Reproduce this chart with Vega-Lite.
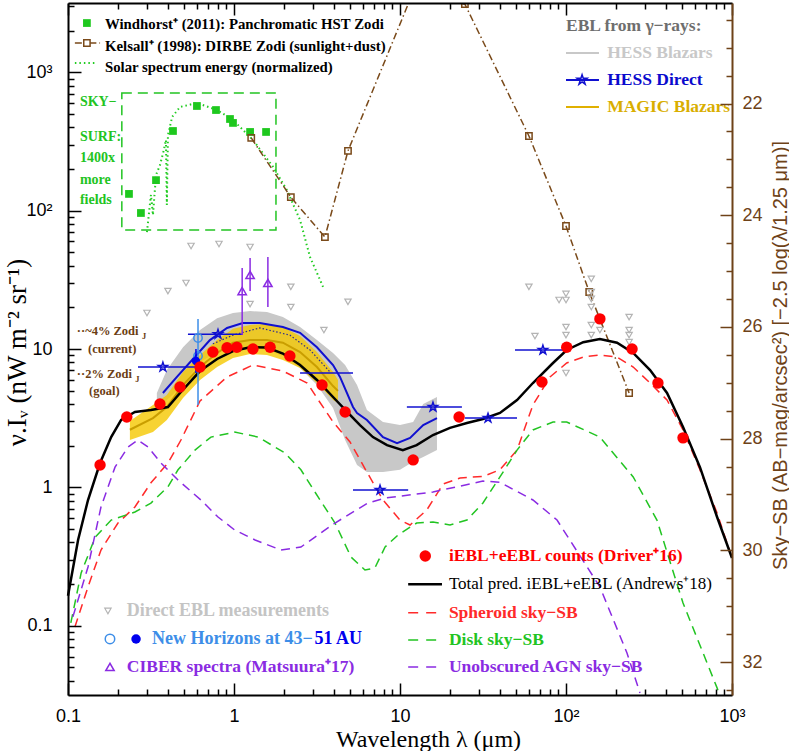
{
  "$schema": "https://vega.github.io/schema/vega-lite/v6.json",
  "width": 664,
  "height": 692,
  "autosize": {"type": "none"},
  "padding": {"left": 68, "top": 3, "right": 57, "bottom": 56},
  "background": "white",
  "config": {"view": {"stroke": null}, "axis": {"grid": false}},
  "datasets": {
    "total": [
      {"wl": 0.1, "v": 0.165}, {"wl": 0.115, "v": 0.417}, {"wl": 0.132, "v": 0.811}, {"wl": 0.156, "v": 1.5},
      {"wl": 0.182, "v": 2.31}, {"wl": 0.209, "v": 3.07}, {"wl": 0.253, "v": 3.51}, {"wl": 0.316, "v": 3.63},
      {"wl": 0.4, "v": 3.81}, {"wl": 0.473, "v": 4.81}, {"wl": 0.624, "v": 6.93}, {"wl": 0.791, "v": 8.47},
      {"wl": 0.986, "v": 9.67}, {"wl": 1.25, "v": 10.3}, {"wl": 1.58, "v": 10.25}, {"wl": 1.97, "v": 9.27},
      {"wl": 2.5, "v": 7.66}, {"wl": 3.16, "v": 5.97}, {"wl": 3.95, "v": 4.5}, {"wl": 5.0, "v": 3.34},
      {"wl": 5.74, "v": 2.82}, {"wl": 6.87, "v": 2.31}, {"wl": 8.35, "v": 2.02}, {"wl": 10.4, "v": 1.86},
      {"wl": 12.6, "v": 2.02}, {"wl": 15.8, "v": 2.39}, {"wl": 20, "v": 2.69}, {"wl": 25.3, "v": 2.92},
      {"wl": 31.6, "v": 3.12}, {"wl": 40, "v": 3.45}, {"wl": 50.7, "v": 4.28}, {"wl": 63.2, "v": 5.68},
      {"wl": 83.5, "v": 7.92}, {"wl": 101, "v": 9.84}, {"wl": 127, "v": 11.2}, {"wl": 160, "v": 11.8},
      {"wl": 203, "v": 11.1}, {"wl": 254, "v": 9.36}, {"wl": 321, "v": 7.05}, {"wl": 406, "v": 4.81},
      {"wl": 507, "v": 2.73}, {"wl": 641, "v": 1.4}, {"wl": 813, "v": 0.611}, {"wl": 1000, "v": 0.309}
    ],
    "sph": [
      {"wl": 0.11, "v": 0.098}, {"wl": 0.132, "v": 0.191}, {"wl": 0.158, "v": 0.353}, {"wl": 0.2, "v": 0.553},
      {"wl": 0.253, "v": 0.722}, {"wl": 0.316, "v": 1.08}, {"wl": 0.4, "v": 1.5}, {"wl": 0.479, "v": 2.2},
      {"wl": 0.624, "v": 4.21}, {"wl": 0.908, "v": 6.28}, {"wl": 1.3, "v": 7.66}, {"wl": 1.97, "v": 6.93},
      {"wl": 2.76, "v": 5.68}, {"wl": 3.16, "v": 4.43}, {"wl": 3.95, "v": 2.97}, {"wl": 5.0, "v": 2.13},
      {"wl": 6.32, "v": 1.29}, {"wl": 7.9, "v": 0.811}, {"wl": 10, "v": 0.581}, {"wl": 11.5, "v": 0.535},
      {"wl": 14.5, "v": 0.687}, {"wl": 18.2, "v": 1.06}, {"wl": 23, "v": 1.17}, {"wl": 31.6, "v": 1.2},
      {"wl": 40, "v": 1.34}, {"wl": 50.7, "v": 1.86}, {"wl": 63.2, "v": 3.94}, {"wl": 80.1, "v": 6.28},
      {"wl": 101, "v": 7.92}, {"wl": 127, "v": 8.75}, {"wl": 160, "v": 9.05}, {"wl": 203, "v": 8.75},
      {"wl": 254, "v": 7.41}, {"wl": 321, "v": 5.68}, {"wl": 406, "v": 4.28}, {"wl": 507, "v": 2.6},
      {"wl": 641, "v": 1.34}, {"wl": 813, "v": 0.653}, {"wl": 1000, "v": 0.309}
    ],
    "disk": [
      {"wl": 0.104, "v": 0.105}, {"wl": 0.12, "v": 0.241}, {"wl": 0.146, "v": 0.438}, {"wl": 0.182, "v": 0.581},
      {"wl": 0.253, "v": 0.664}, {"wl": 0.316, "v": 0.771}, {"wl": 0.4, "v": 1.01}, {"wl": 0.46, "v": 1.34},
      {"wl": 0.582, "v": 1.86}, {"wl": 0.726, "v": 2.31}, {"wl": 1.01, "v": 2.51}, {"wl": 1.4, "v": 2.31},
      {"wl": 2.03, "v": 1.77}, {"wl": 2.53, "v": 1.34}, {"wl": 3.21, "v": 0.853}, {"wl": 4.06, "v": 0.553},
      {"wl": 5.07, "v": 0.314}, {"wl": 6.15, "v": 0.253}, {"wl": 7.06, "v": 0.262}, {"wl": 8.13, "v": 0.371},
      {"wl": 9.73, "v": 0.453}, {"wl": 12.6, "v": 0.553}, {"wl": 15.8, "v": 0.562}, {"wl": 20, "v": 0.535},
      {"wl": 25.3, "v": 0.581}, {"wl": 31.6, "v": 0.771}, {"wl": 40, "v": 1.19}, {"wl": 50.7, "v": 1.86},
      {"wl": 63.2, "v": 2.6}, {"wl": 83.5, "v": 2.97}, {"wl": 101, "v": 2.97}, {"wl": 160, "v": 2.31},
      {"wl": 254, "v": 1.19}, {"wl": 353, "v": 0.581}, {"wl": 507, "v": 0.146}, {"wl": 813, "v": 0.0356},
      {"wl": 900, "v": 0.025}
    ],
    "agn": [
      {"wl": 0.107, "v": 0.116}, {"wl": 0.132, "v": 0.266}, {"wl": 0.158, "v": 0.722}, {"wl": 0.192, "v": 1.4},
      {"wl": 0.23, "v": 1.96}, {"wl": 0.264, "v": 2.2}, {"wl": 0.303, "v": 1.96}, {"wl": 0.363, "v": 1.5},
      {"wl": 0.46, "v": 1.13}, {"wl": 0.632, "v": 0.811}, {"wl": 0.801, "v": 0.611}, {"wl": 1.01, "v": 0.492},
      {"wl": 1.34, "v": 0.417}, {"wl": 1.92, "v": 0.353}, {"wl": 2.53, "v": 0.371}, {"wl": 4.06, "v": 0.553},
      {"wl": 6.41, "v": 0.771}, {"wl": 8.13, "v": 0.838}, {"wl": 15.8, "v": 0.927}, {"wl": 31.6, "v": 1.11},
      {"wl": 40, "v": 1.09}, {"wl": 63.2, "v": 0.811}, {"wl": 88.3, "v": 0.581}, {"wl": 160, "v": 0.191},
      {"wl": 233, "v": 0.0636}, {"wl": 279, "v": 0.0327}
    ],
    "grayband": [
      {"wl": 0.343, "v": 3.94, "v2": 4.81}, {"wl": 0.394, "v": 4.28, "v2": 7.05}, {"wl": 0.493, "v": 5.49, "v2": 10.3},
      {"wl": 0.624, "v": 8.06, "v2": 13.7}, {"wl": 0.791, "v": 9.51, "v2": 16.7}, {"wl": 0.986, "v": 10.2, "v2": 18.2},
      {"wl": 1.25, "v": 10.2, "v2": 18.8}, {"wl": 1.58, "v": 9.84, "v2": 18.5}, {"wl": 1.97, "v": 8.9, "v2": 17.0},
      {"wl": 2.5, "v": 7.29, "v2": 14.4}, {"wl": 3.16, "v": 5.49, "v2": 11.6}, {"wl": 3.95, "v": 3.75, "v2": 9.36},
      {"wl": 4.67, "v": 2.2, "v2": 7.66}, {"wl": 5.51, "v": 1.45, "v2": 5.49}, {"wl": 6.32, "v": 1.29, "v2": 3.63},
      {"wl": 7.9, "v": 1.29, "v2": 2.97}, {"wl": 10, "v": 1.34, "v2": 2.82}, {"wl": 12, "v": 1.53, "v2": 2.97},
      {"wl": 13.8, "v": 1.66, "v2": 4.01}, {"wl": 16.7, "v": 1.86, "v2": 4.5}
    ],
    "goldband": [
      {"wl": 0.236, "v": 2.2, "v2": 3.02}, {"wl": 0.325, "v": 2.51, "v2": 3.94}, {"wl": 0.394, "v": 3.07, "v2": 4.65},
      {"wl": 0.493, "v": 4.43, "v2": 6.82}, {"wl": 0.624, "v": 5.97, "v2": 9.05}, {"wl": 0.791, "v": 7.41, "v2": 11.6},
      {"wl": 0.986, "v": 8.61, "v2": 14.0}, {"wl": 1.25, "v": 9.2, "v2": 14.9}, {"wl": 1.58, "v": 9.05, "v2": 15.2},
      {"wl": 1.97, "v": 8.33, "v2": 14.4}, {"wl": 2.5, "v": 7.29, "v2": 12.4}, {"wl": 3.16, "v": 5.68, "v2": 9.51},
      {"wl": 3.95, "v": 4.28, "v2": 6.82}, {"wl": 4.23, "v": 4.07, "v2": 5.97}
    ],
    "goldmid": [
      {"wl": 0.236, "v": 2.61}, {"wl": 0.325, "v": 3.17}, {"wl": 0.394, "v": 3.81}, {"wl": 0.493, "v": 5.49},
      {"wl": 0.624, "v": 7.41}, {"wl": 0.791, "v": 9.36}, {"wl": 0.986, "v": 11.1}, {"wl": 1.25, "v": 11.6},
      {"wl": 1.58, "v": 11.6}, {"wl": 1.97, "v": 11.1}, {"wl": 2.5, "v": 9.51}, {"wl": 3.16, "v": 7.41},
      {"wl": 3.95, "v": 5.4}, {"wl": 4.23, "v": 4.98}
    ],
    "navy": [
      {"wl": 0.746, "v": 10.9}, {"wl": 0.986, "v": 12.6}, {"wl": 1.43, "v": 14.2}, {"wl": 2.17, "v": 12.6},
      {"wl": 2.87, "v": 9.84}, {"wl": 3.79, "v": 6.82}
    ],
    "hess": [
      {"wl": 0.373, "v": 4.81}, {"wl": 0.453, "v": 6.28}, {"wl": 0.566, "v": 8.47}, {"wl": 0.716, "v": 11.6},
      {"wl": 0.908, "v": 14.2}, {"wl": 1.13, "v": 15.4}, {"wl": 1.43, "v": 15.4}, {"wl": 1.97, "v": 14.4},
      {"wl": 2.5, "v": 13.1}, {"wl": 3.16, "v": 10.3}, {"wl": 3.95, "v": 7.66}, {"wl": 4.35, "v": 6.28},
      {"wl": 5.21, "v": 3.81}, {"wl": 5.51, "v": 3.45}, {"wl": 6.32, "v": 3.07}, {"wl": 7.9, "v": 2.31},
      {"wl": 9.6, "v": 2.09}, {"wl": 11.5, "v": 2.28}, {"wl": 13.8, "v": 2.82}, {"wl": 16.7, "v": 3.17}
    ],
    "stars": [
      {"wl": 0.373, "v": 7.41}, {"wl": 0.801, "v": 12.8}, {"wl": 15.8, "v": 3.81}, {"wl": 33.9, "v": 3.17},
      {"wl": 7.58, "v": 0.957}, {"wl": 72.6, "v": 9.84}
    ],
    "starbars": [
      {"wl": 0.264, "wl2": 0.598, "v": 7.41}, {"wl": 0.528, "wl2": 1.13, "v": 12.8}, {"wl": 2.5, "wl2": 5.21, "v": 6.71},
      {"wl": 11, "wl2": 23.6, "v": 3.81}, {"wl": 24.6, "wl2": 50.7, "v": 3.17}, {"wl": 5.21, "wl2": 11.2, "v": 0.957},
      {"wl": 49.3, "wl2": 96, "v": 9.84}
    ],
    "nhopen": [{"wl": 0.607, "v": 12.0}, {"wl": 0.607, "v": 8.9}],
    "nhopenbar": [{"wl": 0.607, "v": 3.94, "v2": 16.5}],
    "nhfill": [{"wl": 0.59, "v": 8.19}],
    "nhfillbar": [{"wl": 0.59, "v": 6.71, "v2": 10.0}],
    "ciber": [{"wl": 1.12, "v": 26.2}, {"wl": 1.25, "v": 34.3}, {"wl": 1.6, "v": 30.0}],
    "ciberbar": [{"wl": 1.12, "v": 12.6, "v2": 38.5}, {"wl": 1.25, "v": 26.2, "v2": 45.5}, {"wl": 1.6, "v": 20.1, "v2": 46.2}],
    "windhorst": [
      {"wl": 0.233, "v": 132}, {"wl": 0.275, "v": 96.1}, {"wl": 0.339, "v": 166}, {"wl": 0.429, "v": 376},
      {"wl": 0.598, "v": 570}, {"wl": 0.779, "v": 533}, {"wl": 0.946, "v": 459}, {"wl": 0.986, "v": 430},
      {"wl": 1.25, "v": 370}, {"wl": 1.56, "v": 370}
    ],
    "solar": [
      {"wl": 0.299, "v": 70}, {"wl": 0.316, "v": 130}, {"wl": 0.325, "v": 92.9}, {"wl": 0.339, "v": 181},
      {"wl": 0.358, "v": 213}, {"wl": 0.378, "v": 274}, {"wl": 0.389, "v": 324}, {"wl": 0.394, "v": 110},
      {"wl": 0.4, "v": 351}, {"wl": 0.424, "v": 475}, {"wl": 0.473, "v": 561}, {"wl": 0.598, "v": 599},
      {"wl": 0.791, "v": 533}, {"wl": 0.986, "v": 452}, {"wl": 1.3, "v": 324}, {"wl": 1.72, "v": 207},
      {"wl": 2.08, "v": 141}, {"wl": 2.5, "v": 85.5}, {"wl": 2.87, "v": 46.2}, {"wl": 3.44, "v": 28.1}
    ],
    "kelsall": [
      {"wl": 1.27, "v": 335}, {"wl": 2.2, "v": 125}, {"wl": 3.53, "v": 64.4}, {"wl": 4.86, "v": 270},
      {"wl": 12, "v": 3800}, {"wl": 24.6, "v": 3100}, {"wl": 59.8, "v": 346}, {"wl": 100, "v": 77.4},
      {"wl": 138, "v": 25.8}, {"wl": 240, "v": 4.81}
    ],
    "kelsallpts": [
      {"wl": 1.27, "v": 335}, {"wl": 2.2, "v": 125}, {"wl": 3.53, "v": 64.4}, {"wl": 4.86, "v": 270},
      {"wl": 24.6, "v": 3100}, {"wl": 59.8, "v": 346}, {"wl": 100, "v": 77.4}, {"wl": 138, "v": 25.8},
      {"wl": 240, "v": 4.81}
    ],
    "box": [{"wl": 0.211, "wl2": 1.79, "v": 72.4, "v2": 708}],
    "direct": [
      {"wl": 0.551, "v": 55.5}, {"wl": 0.812, "v": 57.4}, {"wl": 1.25, "v": 54.6}, {"wl": 0.514, "v": 30.0},
      {"wl": 0.4, "v": 26.2}, {"wl": 0.299, "v": 18.2}, {"wl": 1.25, "v": 21.1}, {"wl": 2.2, "v": 28.1},
      {"wl": 2.2, "v": 20.1}, {"wl": 4.86, "v": 21.9}, {"wl": 3.48, "v": 13.7}, {"wl": 59.8, "v": 28.1},
      {"wl": 65, "v": 12.4}, {"wl": 90.8, "v": 22.6}, {"wl": 100, "v": 25.0}, {"wl": 100, "v": 22.6},
      {"wl": 100, "v": 14.4}, {"wl": 100, "v": 12.6}, {"wl": 100, "v": 6.71}, {"wl": 142, "v": 32.1},
      {"wl": 142, "v": 25.8}, {"wl": 142, "v": 23.0}, {"wl": 142, "v": 20.1}, {"wl": 142, "v": 14.9},
      {"wl": 142, "v": 12.6}, {"wl": 160, "v": 13.7}, {"wl": 240, "v": 17.0}, {"wl": 240, "v": 13.7},
      {"wl": 240, "v": 12.6}, {"wl": 240, "v": 11.2}
    ],
    "driver": [
      {"wl": 0.156, "v": 1.45}, {"wl": 0.226, "v": 3.23}, {"wl": 0.358, "v": 4.01}, {"wl": 0.473, "v": 5.31},
      {"wl": 0.624, "v": 7.41}, {"wl": 0.746, "v": 9.51}, {"wl": 0.908, "v": 10.2}, {"wl": 1.04, "v": 10.3},
      {"wl": 1.3, "v": 10.0}, {"wl": 1.65, "v": 10.3}, {"wl": 2.17, "v": 8.9}, {"wl": 3.39, "v": 5.49},
      {"wl": 4.67, "v": 3.51}, {"wl": 12.0, "v": 1.58}, {"wl": 22.7, "v": 3.23}, {"wl": 71.6, "v": 5.78},
      {"wl": 101, "v": 10.3}, {"wl": 160, "v": 16.5}, {"wl": 250, "v": 10.0}, {"wl": 358, "v": 5.68},
      {"wl": 507, "v": 2.28}
    ]
  },
  "layer": [
    {
      "encoding": {
        "x": {
          "field": "wl", "type": "quantitative",
          "scale": {"type": "log", "domain": [0.1, 1000], "nice": false},
          "axis": {
            "orient": "bottom",
            "values": [0.1, 0.2, 0.3, 0.4, 0.5, 0.6, 0.7, 0.8, 0.9, 1, 2, 3, 4, 5, 6, 7, 8, 9, 10, 20, 30, 40, 50, 60, 70, 80, 90, 100, 200, 300, 400, 500, 600, 700, 800, 900, 1000],
            "labelExpr": "datum.value===0.1?'0.1':datum.value===1?'1':datum.value===10?'10':datum.value===100?'10²':datum.value===1000?'10³':''",
            "labelOverlap": false, "labelFlush": false, "labelBound": false,
            "labelFont": "Liberation Sans", "labelFontSize": 18, "labelColor": "black", "labelPadding": 24,
            "tickSize": {"condition": {"test": "datum.value===0.1||datum.value===1||datum.value===10||datum.value===100||datum.value===1000", "value": -12}, "value": -6},
            "tickColor": "black", "tickWidth": 1.5,
            "domainColor": "black", "domainWidth": 2, "grid": false, "zindex": 1,
            "title": "Wavelength λ (μm)", "titleFont": "Liberation Serif", "titleFontSize": 24, "titleFontWeight": "normal",
            "titleColor": "black", "titleX": 360, "titleY": 51, "titleAlign": "center", "titleBaseline": "alphabetic"
          }
        },
        "y": {
          "field": "v", "type": "quantitative",
          "scale": {"type": "log", "domain": [0.031623, 3162.3], "nice": false},
          "axis": {
            "orient": "left",
            "values": [0.04, 0.05, 0.06, 0.07, 0.08, 0.09, 0.1, 0.2, 0.3, 0.4, 0.5, 0.6, 0.7, 0.8, 0.9, 1, 2, 3, 4, 5, 6, 7, 8, 9, 10, 20, 30, 40, 50, 60, 70, 80, 90, 100, 200, 300, 400, 500, 600, 700, 800, 900, 1000, 2000, 3000],
            "labelExpr": "datum.value===0.1?'0.1':datum.value===1?'1':datum.value===10?'10':datum.value===100?'10²':datum.value===1000?'10³':''",
            "labelOverlap": false, "labelFlush": false, "labelBound": false,
            "labelFont": "Liberation Sans", "labelFontSize": 18, "labelColor": "black", "labelPadding": 29,
            "tickSize": {"condition": {"test": "datum.value===0.1||datum.value===1||datum.value===10||datum.value===100||datum.value===1000", "value": -13}, "value": -6},
            "tickColor": "black", "tickWidth": 1.5,
            "domainColor": "black", "domainWidth": 2, "grid": false, "zindex": 1,
            "title": "ν.Iᵥ (nW m⁻² sr⁻¹)", "titleFont": "Liberation Serif", "titleFontSize": 27, "titleFontWeight": "normal",
            "titleColor": "black", "titleAngle": 270, "titleX": -43, "titleY": 349, "titleAlign": "center", "titleBaseline": "alphabetic"
          }
        }
      },
      "layer": [
        {"data": {"name": "grayband"}, "mark": {"type": "area", "color": "#c8c8c8", "opacity": 1}, "encoding": {"y2": {"field": "v2"}}},
        {"data": {"name": "goldband"}, "mark": {"type": "area", "color": "#f5c800", "opacity": 0.8}, "encoding": {"y2": {"field": "v2"}}},
        {"data": {"name": "goldmid"}, "mark": {"type": "line", "color": "#c99e00", "strokeWidth": 2}, "encoding": {}},
        {"data": {"name": "navy"}, "mark": {"type": "line", "color": "#2b2b90", "strokeWidth": 1.2, "strokeDash": [1.5, 2]}, "encoding": {}},
        {"data": {"name": "sph"}, "mark": {"type": "line", "color": "#ff2a2a", "strokeWidth": 1.5, "strokeDash": [9, 6], "clip": true}, "encoding": {}},
        {"data": {"name": "disk"}, "mark": {"type": "line", "color": "#22c422", "strokeWidth": 1.5, "strokeDash": [9, 6], "clip": true}, "encoding": {}},
        {"data": {"name": "agn"}, "mark": {"type": "line", "color": "#8a2be2", "strokeWidth": 1.5, "strokeDash": [9, 6], "clip": true}, "encoding": {}},
        {"data": {"name": "box"}, "mark": {"type": "rect", "fill": "transparent", "stroke": "#22c422", "strokeWidth": 1.5, "strokeDash": [10, 6]}, "encoding": {"x2": {"field": "wl2"}, "y2": {"field": "v2"}}},
        {"data": {"name": "solar"}, "mark": {"type": "line", "color": "#22cc22", "strokeWidth": 2, "strokeDash": [1.5, 3]}, "encoding": {}},
        {"data": {"name": "windhorst"}, "mark": {"type": "point", "shape": "square", "filled": true, "color": "#1ec81e", "size": 60, "opacity": 1}, "encoding": {}},
        {"data": {"name": "kelsall"}, "mark": {"type": "line", "color": "#7a4a1a", "strokeWidth": 1.5, "strokeDash": [7, 3, 1.5, 3], "clip": true}, "encoding": {}},
        {"data": {"name": "kelsallpts"}, "mark": {"type": "point", "shape": "square", "filled": false, "color": "#7a4a1a", "strokeWidth": 1.5, "size": 40, "opacity": 1, "clip": true}, "encoding": {}},
        {"data": {"name": "direct"}, "mark": {"type": "point", "shape": "triangle-down", "filled": false, "color": "#b4b4b4", "strokeWidth": 1.2, "size": 40, "opacity": 1}, "encoding": {}},
        {"data": {"name": "total"}, "mark": {"type": "line", "color": "black", "strokeWidth": 2.5}, "encoding": {}},
        {"data": {"name": "hess"}, "mark": {"type": "line", "color": "#1010d0", "strokeWidth": 2}, "encoding": {}},
        {"data": {"name": "starbars"}, "mark": {"type": "rule", "color": "#1010d0", "strokeWidth": 1.5}, "encoding": {"x2": {"field": "wl2"}}},
        {"data": {"name": "stars"}, "mark": {"type": "point", "shape": "M0,-1L0.2245,-0.309L0.951,-0.309L0.363,0.118L0.588,0.809L0,0.382L-0.588,0.809L-0.363,0.118L-0.951,-0.309L-0.2245,-0.309Z", "filled": false, "color": "#1010d0", "strokeWidth": 1.5, "size": 90, "opacity": 1}, "encoding": {}},
        {"data": {"name": "nhopenbar"}, "mark": {"type": "rule", "color": "#3d8ee8", "strokeWidth": 1.5}, "encoding": {"y2": {"field": "v2"}}},
        {"data": {"name": "nhopen"}, "mark": {"type": "point", "shape": "circle", "filled": false, "color": "#3d8ee8", "strokeWidth": 1.5, "size": 70, "opacity": 1}, "encoding": {}},
        {"data": {"name": "nhfillbar"}, "mark": {"type": "rule", "color": "#0000ee", "strokeWidth": 1.5}, "encoding": {"y2": {"field": "v2"}}},
        {"data": {"name": "nhfill"}, "mark": {"type": "circle", "color": "#0000ee", "size": 70, "opacity": 1}, "encoding": {}},
        {"data": {"name": "ciberbar"}, "mark": {"type": "rule", "color": "#8a2be2", "strokeWidth": 1.5}, "encoding": {"y2": {"field": "v2"}}},
        {"data": {"name": "ciber"}, "mark": {"type": "point", "shape": "triangle-up", "filled": false, "color": "#8a2be2", "strokeWidth": 1.5, "size": 70, "opacity": 1}, "encoding": {}},
        {"data": {"name": "driver"}, "mark": {"type": "circle", "color": "#ff0000", "size": 130, "opacity": 1}, "encoding": {}},

        {"data": {"values": [{"wl": 0.13, "v": 2266}]}, "mark": {"type": "point", "shape": "square", "filled": true, "color": "#1ec81e", "size": 60, "opacity": 1}, "encoding": {}},
        {"data": {"values": [{"wl": 0.11, "wl2": 0.156, "v": 1626}]}, "mark": {"type": "rule", "color": "#7a4a1a", "strokeWidth": 1.5, "strokeDash": [7, 3, 1.5, 3]}, "encoding": {"x2": {"field": "wl2"}}},
        {"data": {"values": [{"wl": 0.13, "v": 1626}]}, "mark": {"type": "point", "shape": "square", "filled": false, "fill": "white", "color": "#7a4a1a", "strokeWidth": 1.5, "size": 40, "opacity": 1}, "encoding": {}},
        {"data": {"values": [{"wl": 0.11, "wl2": 0.149, "v": 1167}]}, "mark": {"type": "rule", "color": "#22cc22", "strokeWidth": 2, "strokeDash": [1.5, 3]}, "encoding": {"x2": {"field": "wl2"}}},
        {
          "data": {"values": [
            {"wl": 0.167, "v": 2193, "t": "Windhorst⁺ (2011): Panchromatic HST Zodi"},
            {"wl": 0.167, "v": 1521, "t": "Kelsall⁺ (1998): DIRBE Zodi (sunlight+dust)"},
            {"wl": 0.167, "v": 1072, "t": "Solar spectrum energy (normalized)"}
          ]},
          "mark": {"type": "text", "align": "left", "baseline": "middle", "font": "Liberation Serif", "fontWeight": "bold", "fontSize": 14.8, "color": "black"},
          "encoding": {"text": {"field": "t"}}
        },
        {
          "data": {"values": [
            {"wl": 0.118, "v": 609, "t": "SKY−"}, {"wl": 0.118, "v": 340, "t": "SURF:"}, {"wl": 0.118, "v": 240, "t": "1400x"},
            {"wl": 0.118, "v": 166, "t": "more"}, {"wl": 0.118, "v": 119, "t": "fields"}
          ]},
          "mark": {"type": "text", "align": "left", "baseline": "middle", "font": "Liberation Serif", "fontWeight": "bold", "fontSize": 14, "color": "#22c422"},
          "encoding": {"text": {"field": "t"}}
        },
        {
          "data": {"values": [
            {"wl": 0.113, "v": 13.5, "t": "··~4% Zodi"}, {"wl": 0.132, "v": 10.0, "t": "(current)"},
            {"wl": 0.113, "v": 6.6, "t": "··2% Zodi"}, {"wl": 0.134, "v": 5.0, "t": "(goal)"}
          ]},
          "mark": {"type": "text", "align": "left", "baseline": "middle", "font": "Liberation Serif", "fontWeight": "bold", "fontSize": 12.5, "color": "#6b3d12"},
          "encoding": {"text": {"field": "t"}}
        },
        {
          "data": {"values": [{"wl": 0.279, "v": 12.4, "t": "J"}, {"wl": 0.254, "v": 6.1, "t": "J"}]},
          "mark": {"type": "text", "align": "left", "baseline": "middle", "font": "Liberation Serif", "fontWeight": "bold", "fontSize": 8.5, "color": "#6b3d12"},
          "encoding": {"text": {"field": "t"}}
        },
        {
          "data": {"values": [{"wl": 100, "v": 2158, "t": "EBL from γ−rays:"}]},
          "mark": {"type": "text", "align": "left", "baseline": "middle", "font": "Liberation Serif", "fontWeight": "bold", "fontSize": 17.5, "color": "#6e6e6e"},
          "encoding": {"text": {"field": "t"}}
        },
        {"data": {"values": [{"wl": 100, "wl2": 158, "v": 1377}]}, "mark": {"type": "rule", "color": "#c8c8c8", "strokeWidth": 2}, "encoding": {"x2": {"field": "wl2"}}},
        {
          "data": {"values": [{"wl": 177, "v": 1377, "t": "HESS Blazars"}]},
          "mark": {"type": "text", "align": "left", "baseline": "middle", "font": "Liberation Serif", "fontWeight": "bold", "fontSize": 17.5, "color": "#c8c8c8"},
          "encoding": {"text": {"field": "t"}}
        },
        {"data": {"values": [{"wl": 100, "wl2": 158, "v": 879}]}, "mark": {"type": "rule", "color": "#1010d0", "strokeWidth": 2}, "encoding": {"x2": {"field": "wl2"}}},
        {"data": {"values": [{"wl": 125, "v": 879}]}, "mark": {"type": "point", "shape": "M0,-1L0.2245,-0.309L0.951,-0.309L0.363,0.118L0.588,0.809L0,0.382L-0.588,0.809L-0.363,0.118L-0.951,-0.309L-0.2245,-0.309Z", "filled": false, "color": "#1010d0", "strokeWidth": 1.5, "size": 110, "opacity": 1}, "encoding": {}},
        {
          "data": {"values": [{"wl": 177, "v": 879, "t": "HESS Direct"}]},
          "mark": {"type": "text", "align": "left", "baseline": "middle", "font": "Liberation Serif", "fontWeight": "bold", "fontSize": 17.5, "color": "#0a0acd"},
          "encoding": {"text": {"field": "t"}}
        },
        {"data": {"values": [{"wl": 100, "wl2": 158, "v": 561}]}, "mark": {"type": "rule", "color": "#e0b000", "strokeWidth": 2}, "encoding": {"x2": {"field": "wl2"}}},
        {
          "data": {"values": [{"wl": 177, "v": 561, "t": "MAGIC Blazars"}]},
          "mark": {"type": "text", "align": "left", "baseline": "middle", "font": "Liberation Serif", "fontWeight": "bold", "fontSize": 17.5, "color": "#d9ae00"},
          "encoding": {"text": {"field": "t"}}
        },
        {"data": {"values": [{"wl": 0.174, "v": 0.128}]}, "mark": {"type": "point", "shape": "triangle-down", "filled": false, "color": "#b4b4b4", "strokeWidth": 1.2, "size": 40, "opacity": 1}, "encoding": {}},
        {
          "data": {"values": [{"wl": 0.226, "v": 0.128, "t": "Direct EBL measurements"}]},
          "mark": {"type": "text", "align": "left", "baseline": "middle", "font": "Liberation Serif", "fontWeight": "bold", "fontSize": 18, "color": "#c4c4c4"},
          "encoding": {"text": {"field": "t"}}
        },
        {"data": {"values": [{"wl": 0.179, "v": 0.0803}]}, "mark": {"type": "point", "shape": "circle", "filled": false, "color": "#3d8ee8", "strokeWidth": 1.5, "size": 90, "opacity": 1}, "encoding": {}},
        {"data": {"values": [{"wl": 0.257, "v": 0.0803}]}, "mark": {"type": "circle", "color": "#0000ee", "size": 90, "opacity": 1}, "encoding": {}},
        {
          "data": {"values": [{"wl": 0.321, "v": 0.0803, "t": "New Horizons at 43−"}]},
          "mark": {"type": "text", "align": "left", "baseline": "middle", "font": "Liberation Serif", "fontWeight": "bold", "fontSize": 18, "color": "#3d8ee8"},
          "encoding": {"text": {"field": "t"}}
        },
        {
          "data": {"values": [{"wl": 3.05, "v": 0.0803, "t": "51 AU"}]},
          "mark": {"type": "text", "align": "left", "baseline": "middle", "font": "Liberation Serif", "fontWeight": "bold", "fontSize": 18, "color": "#0000ee"},
          "encoding": {"text": {"field": "t"}}
        },
        {"data": {"values": [{"wl": 0.179, "v": 0.0504}]}, "mark": {"type": "point", "shape": "triangle-up", "filled": false, "color": "#8a2be2", "strokeWidth": 1.5, "size": 70, "opacity": 1}, "encoding": {}},
        {
          "data": {"values": [{"wl": 0.226, "v": 0.0504, "t": "CIBER spectra (Matsuura⁺17)"}]},
          "mark": {"type": "text", "align": "left", "baseline": "middle", "font": "Liberation Serif", "fontWeight": "bold", "fontSize": 17.5, "color": "#8a2be2"},
          "encoding": {"text": {"field": "t"}}
        },
        {"data": {"values": [{"wl": 14.2, "v": 0.319}]}, "mark": {"type": "circle", "color": "#ff0000", "size": 130, "opacity": 1}, "encoding": {}},
        {
          "data": {"values": [{"wl": 19.7, "v": 0.319, "t": "iEBL+eEBL counts (Driver⁺16)"}]},
          "mark": {"type": "text", "align": "left", "baseline": "middle", "font": "Liberation Serif", "fontWeight": "bold", "fontSize": 17.5, "color": "#ff0000"},
          "encoding": {"text": {"field": "t"}}
        },
        {"data": {"values": [{"wl": 11.2, "wl2": 17.9, "v": 0.2}]}, "mark": {"type": "rule", "color": "black", "strokeWidth": 2.5}, "encoding": {"x2": {"field": "wl2"}}},
        {
          "data": {"values": [{"wl": 19.7, "v": 0.2, "t": "Total pred. iEBL+eEBL (Andrews⁺18)"}]},
          "mark": {"type": "text", "align": "left", "baseline": "middle", "font": "Liberation Serif", "fontWeight": "normal", "fontSize": 17, "color": "black"},
          "encoding": {"text": {"field": "t"}}
        },
        {"data": {"values": [{"wl": 11.2, "wl2": 17.9, "v": 0.124}]}, "mark": {"type": "rule", "color": "#ff2a2a", "strokeWidth": 1.5, "strokeDash": [10, 8]}, "encoding": {"x2": {"field": "wl2"}}},
        {
          "data": {"values": [{"wl": 19.7, "v": 0.124, "t": "Spheroid sky−SB"}]},
          "mark": {"type": "text", "align": "left", "baseline": "middle", "font": "Liberation Serif", "fontWeight": "bold", "fontSize": 17.5, "color": "#ff2a2a"},
          "encoding": {"text": {"field": "t"}}
        },
        {"data": {"values": [{"wl": 11.2, "wl2": 17.9, "v": 0.0789}]}, "mark": {"type": "rule", "color": "#22c422", "strokeWidth": 1.5, "strokeDash": [10, 8]}, "encoding": {"x2": {"field": "wl2"}}},
        {
          "data": {"values": [{"wl": 19.7, "v": 0.0789, "t": "Disk sky−SB"}]},
          "mark": {"type": "text", "align": "left", "baseline": "middle", "font": "Liberation Serif", "fontWeight": "bold", "fontSize": 17.5, "color": "#22c422"},
          "encoding": {"text": {"field": "t"}}
        },
        {"data": {"values": [{"wl": 11.2, "wl2": 17.9, "v": 0.0504}]}, "mark": {"type": "rule", "color": "#8a2be2", "strokeWidth": 1.5, "strokeDash": [10, 8]}, "encoding": {"x2": {"field": "wl2"}}},
        {
          "data": {"values": [{"wl": 19.7, "v": 0.0504, "t": "Unobscured AGN sky−SB"}]},
          "mark": {"type": "text", "align": "left", "baseline": "middle", "font": "Liberation Serif", "fontWeight": "bold", "fontSize": 17.5, "color": "#8a2be2"},
          "encoding": {"text": {"field": "t"}}
        }
      ]
    },
    {
      "data": {"values": [{"wl": 0.1, "mag": 20.2}, {"wl": 1000, "mag": 32.59}]},
      "mark": {"type": "point", "opacity": 0},
      "encoding": {
        "x": {
          "field": "wl", "type": "quantitative",
          "scale": {"type": "log", "domain": [0.1, 1000], "nice": false},
          "axis": {
            "orient": "top",
            "values": [0.1, 0.2, 0.3, 0.4, 0.5, 0.6, 0.7, 0.8, 0.9, 1, 2, 3, 4, 5, 6, 7, 8, 9, 10, 20, 30, 40, 50, 60, 70, 80, 90, 100, 200, 300, 400, 500, 600, 700, 800, 900, 1000],
            "labels": false,
            "tickSize": {"condition": {"test": "datum.value===0.1||datum.value===1||datum.value===10||datum.value===100||datum.value===1000", "value": -12}, "value": -6},
            "tickColor": "black", "tickWidth": 1.5,
            "domainColor": "black", "domainWidth": 2, "grid": false, "zindex": 1, "title": null
          }
        },
        "y": {
          "field": "mag", "type": "quantitative",
          "scale": {"domain": [20.2, 32.59], "reverse": true, "nice": false, "zero": false},
          "axis": {
            "orient": "right",
            "values": [20.5, 21, 21.5, 22, 22.5, 23, 23.5, 24, 24.5, 25, 25.5, 26, 26.5, 27, 27.5, 28, 28.5, 29, 29.5, 30, 30.5, 31, 31.5, 32, 32.5],
            "labelExpr": "datum.value%2===0?format(datum.value,'d'):''",
            "labelOverlap": false, "labelFlush": false, "labelBound": false,
            "labelFont": "Liberation Sans", "labelFontSize": 18, "labelColor": "#6e4218", "labelPadding": 22,
            "tickSize": {"condition": {"test": "datum.value%2===0", "value": -12}, "value": -6},
            "tickColor": "#6e4218", "tickWidth": 1.5,
            "domainColor": "#6e4218", "domainWidth": 2, "grid": false, "zindex": 1,
            "title": "Sky−SB  (AB−mag/arcsec²)  [−2.5 log(λ/1.25 μm)]",
            "titleFont": "Liberation Sans", "titleFontSize": 20, "titleFontWeight": "normal", "titleColor": "#6e4218",
            "titleAngle": 270, "titleX": 54, "titleY": 352, "titleAlign": "center", "titleBaseline": "alphabetic"
          }
        }
      }
    }
  ],
  "resolve": {"scale": {"y": "independent"}, "axis": {"x": "independent", "y": "independent"}}
}
